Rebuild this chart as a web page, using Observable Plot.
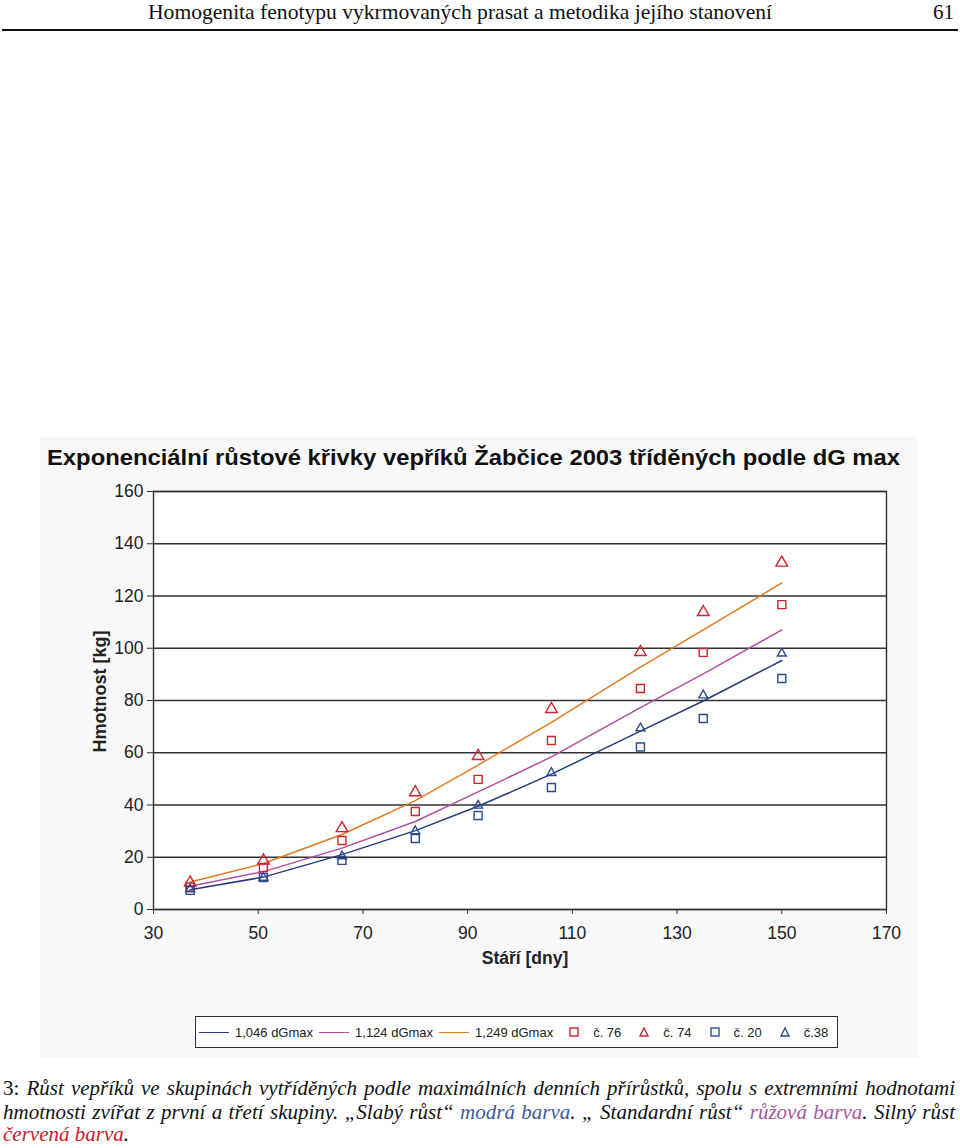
<!DOCTYPE html>
<html>
<head>
<meta charset="utf-8">
<script src="https://cdn.jsdelivr.net/npm/d3@7"></script>
<script src="https://cdn.jsdelivr.net/npm/@observablehq/plot@0.6"></script>
<style>
  html, body { margin: 0; padding: 0; background: #fff; }
  #page { position: relative; width: 960px; height: 1148px; overflow: hidden; }
  .serif { font-family: "Liberation Serif", "Times New Roman", serif; color: #111; }
  .sans { font-family: "Liberation Sans", Arial, sans-serif; }
  .abs { position: absolute; white-space: nowrap; }
  #legend { position: absolute; left: 195px; top: 1016px; width: 641px; height: 30px;
            border: 1px solid #333; background: #fff; display: flex; align-items: center;
            font-family: "Liberation Sans", Arial, sans-serif; font-size: 13px; color: #222; }
  #legend .sw { display: inline-block; width: 30px; height: 0; border-top: 1.5px solid; }
  #legend .item { display: flex; align-items: center; white-space: nowrap; }
  #legend svg { display: block; }
</style>
</head>
<body>
<div id="page">
  <div id="hdr" class="serif abs" style="left:148px; top:0px; font-size:21px; line-height:24px;">Homogenita fenotypu vykrmovaných prasat a metodika jejího stanovení</div>
  <div class="serif abs" style="left:933px; top:0px; font-size:21px; line-height:24px;">61</div>
  <div class="abs" style="left:2px; top:29px; width:956px; height:2px; background:#111;"></div>

  <div class="abs" style="left:40px; top:437px; width:878px; height:621px; background:#f8f8f8;"></div>
  <div id="title" class="sans abs" style="left:47px; top:445px; font-size:22px; line-height:26px; font-weight:bold; color:#111;">Exponenciální růstové křivky vepříků Žabčice 2003 tříděných podle dG max</div>
  <div id="chart" class="abs" style="left:40px; top:480px;"></div>
  <div id="legend"></div>

  <div id="cap1" class="serif abs" style="left:3px; top:1076px; font-size:21px; line-height:24px;">3: <i>Růst vepříků ve skupinách vytříděných podle maximálních denních přírůstků, spolu s extremními hodnotami</i></div>
  <div id="cap2" class="serif abs" style="left:3px; top:1100px; font-size:21px; line-height:24px;"><i>hmotnosti zvířat z první a třetí skupiny. „Slabý růst“ <span style="color:#3b5a9e">modrá barva</span>. „ Standardní růst“ <span style="color:#a4589e">růžová barva</span>. Silný růst</i></div>
  <div id="cap3" class="serif abs" style="left:3px; top:1122px; font-size:21px; line-height:24px;"><i style="color:#c8202c">červená barva</i><i>.</i></div>
</div>

<script>
// ---- data ----
const days = [37, 51, 66, 80, 92, 106, 123, 135, 150];

const curveNames = ["1,046 dGmax", "1,124 dGmax", "1,249 dGmax"];
const curve1046 = [7.6, 12.4, 21.0, 30.2, 39.5, 51.8, 68.3, 79.8, 95.3];
const curve1124 = [8.9, 14.5, 23.5, 33.7, 45.0, 58.4, 77.3, 90.2, 107.0];
const curve1249 = [10.5, 17.6, 28.7, 41.7, 55.3, 71.6, 92.8, 107.0, 125.0];

const pigNames = ["č. 76", "č. 74", "č. 20", "č.38"];
const pig76 = [8.6, 16.0, 26.4, 37.5, 49.8, 64.7, 84.6, 98.4, 116.7];
const pig74 = [10.3, 18.7, 31.1, 44.8, 58.7, 76.7, 98.5, 113.8, 132.7];
const pig20 = [7.3, 12.2, 18.8, 27.2, 36.0, 46.7, 62.2, 73.1, 88.4];
const pig38 = [7.8, 12.2, 20.4, 30.0, 39.8, 52.3, 69.4, 82.0, 98.0];

const xTicks = [30, 50, 70, 90, 110, 130, 150, 170];
const yTicks = [0, 20, 40, 60, 80, 100, 120, 140, 160];

// ---- styles ----
const curveColors = ["#223d7c", "#b24d9f", "#e27a22"];
const pigColors = ["#cf2430", "#cf2430", "#2e4a8e", "#2e4a8e"];
const pigSymbols = ["square", "triangle", "square", "triangle"];
const pigSizes = [4.5, 4.3, 4.5, 3.3];

const curveSeries = [curve1046, curve1124, curve1249];
const pigSeries = [pig76, pig74, pig20, pig38];

const curveRows = curveSeries.flatMap((vals, k) => days.map((d, i) => ({series: curveNames[k], day: d, kg: vals[i]})));
const pigRows = pigSeries.flatMap((vals, k) => days.map((d, i) => ({series: pigNames[k], day: d, kg: vals[i]})));

const lineMarks = curveNames.map((name, k) =>
  Plot.line(curveRows.filter(r => r.series === name), {x: "day", y: "kg", stroke: curveColors[k], strokeWidth: 1.5}));
const dotMarks = pigNames.map((name, k) =>
  Plot.dot(pigRows.filter(r => r.series === name), {x: "day", y: "kg", symbol: pigSymbols[k], r: pigSizes[k],
    stroke: pigColors[k], fill: "none", strokeWidth: 1.4}));

const chart = Plot.plot({
  width: 870, height: 510,
  marginLeft: 113, marginRight: 24, marginTop: 11, marginBottom: 81,
  x: {domain: [30, 170]},
  y: {domain: [0, 160]},
  style: {fontFamily: '"Liberation Sans", Arial, sans-serif', fontSize: "17.5px", color: "#222", background: "transparent", overflow: "visible"},
  marks: [
    Plot.frame({fill: "white", stroke: null}),
    Plot.gridY(yTicks, {stroke: "#333", strokeOpacity: 1, strokeWidth: 1.3}),
    Plot.axisY(yTicks, {tickSize: 6, tickPadding: 4, label: null, stroke: "#333", tickFormat: d => d}),
    Plot.axisX(xTicks, {tickSize: 5, tickPadding: 12, label: null, stroke: "#333", tickFormat: d => d}),
    Plot.frame({stroke: "#333", strokeWidth: 1.4}),
    ...lineMarks,
    ...dotMarks,
    Plot.text(["Hmotnost [kg]"], {text: d => d, frameAnchor: "left", textAnchor: "middle", dx: -53, dy: -9, rotate: -90, fontWeight: "bold", fontSize: 18, fill: "#222"}),
    Plot.text(["Stáří [dny]"], {text: d => d, frameAnchor: "bottom", textAnchor: "middle", dx: 5, dy: 54, fontWeight: "bold", fontSize: 17.5, fill: "#222"})
  ]
});
document.getElementById("chart").appendChild(chart);

// ---- legend ----
const legend = document.getElementById("legend");
function add(html) { const s = document.createElement("span"); s.className = "item"; s.innerHTML = html; legend.appendChild(s); return s; }
curveNames.forEach((name, k) => {
  const it = add(`<span class="sw" style="border-color:${curveColors[k]}"></span><span style="margin-left:6px">${name}</span>`);
  it.style.marginLeft = k === 0 ? "3px" : "6px";
});
pigNames.forEach((name, k) => {
  const shape = pigSymbols[k] === "square"
    ? `<rect x="1" y="1" width="8" height="8" fill="none" stroke="${pigColors[k]}" stroke-width="1.4"/>`
    : `<path d="M5,1 L9,9 L1,9 Z" fill="none" stroke="${pigColors[k]}" stroke-width="1.4"/>`;
  const it = add(`<svg width="10" height="10">${shape}</svg><span style="margin-left:14px">${name}</span>`);
  it.style.marginLeft = k === 0 ? "16px" : "18px";
});

// ---- fit text widths to the reference ----
function scaleTo(el, w) {
  const nat = el.getBoundingClientRect().width;
  el.style.transformOrigin = "0 0";
  el.style.transform = `scaleX(${w / nat})`;
}
function spaceTo(el, w) {
  const nat = el.getBoundingClientRect().width;
  const n = (el.textContent.match(/ /g) || []).length;
  el.style.wordSpacing = ((w - nat) / n) + "px";
}
scaleTo(document.getElementById("hdr"), 624);
scaleTo(document.getElementById("title"), 853);
spaceTo(document.getElementById("cap1"), 952);
spaceTo(document.getElementById("cap2"), 952);
</script>
</body>
</html>
